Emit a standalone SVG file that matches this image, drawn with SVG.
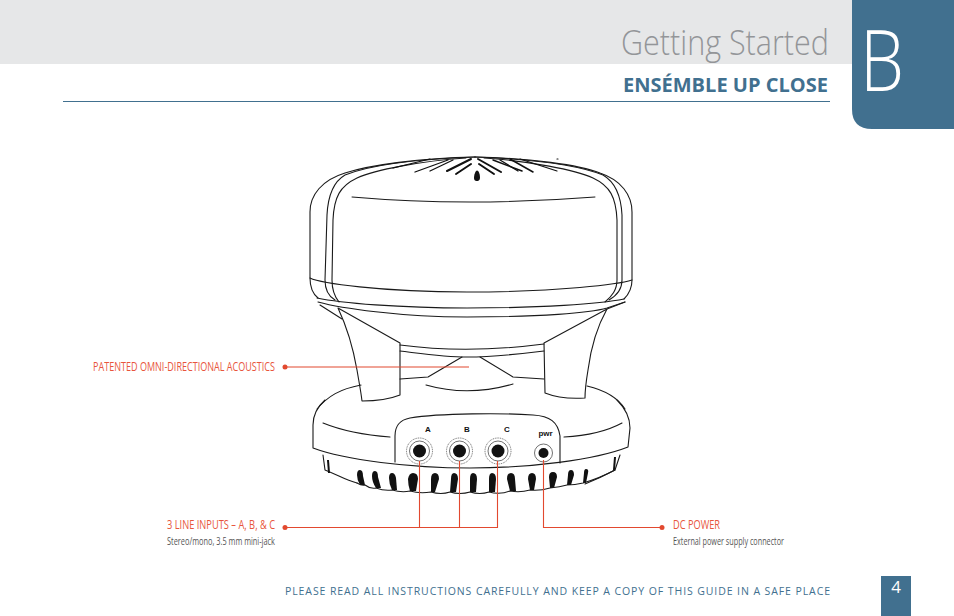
<svg xmlns="http://www.w3.org/2000/svg" width="954" height="616" viewBox="0 0 954 616">
<style>
.o{fill:none;stroke:#1a1a1a;stroke-width:1.1;stroke-linejoin:round;stroke-linecap:round}
.k{fill:#111}
.v{fill:none;stroke:#111;stroke-linecap:round}
.r{fill:none;stroke:#e2492f;stroke-width:1.1}
.d{fill:#e2492f}
.lab{font-family:"Open Sans","Noto Sans",sans-serif;fill:#e8553c;font-size:12px}
.sub{font-family:"Open Sans","Noto Sans",sans-serif;fill:#555;font-size:10px}
.j{font-family:"Liberation Sans",Arial,sans-serif;font-weight:bold;font-size:8px;fill:#111;text-anchor:middle}
.ring{fill:none;stroke:#333;stroke-width:.7}
.dot{fill:none;stroke:#333;stroke-width:.7;stroke-dasharray:1 .8}
</style>
<rect width="954" height="616" fill="#fff"/>
<g id="header">
<rect x="0" y="0" width="852" height="64" fill="#e6e7e8"/>
<path d="M852 0H954V129H872Q852 129 852 109Z" fill="#41708f"/>
<text x="860" y="91" font-family="Open Sans,Noto Sans,sans-serif" font-weight="300" font-size="84" fill="#fff" textLength="44" lengthAdjust="spacingAndGlyphs">B</text>
<text x="621" y="55" font-family="Open Sans,Noto Sans,sans-serif" font-weight="300" font-size="34" fill="#939598" textLength="208" lengthAdjust="spacingAndGlyphs">Getting Started</text>
<text x="623" y="92" font-family="Open Sans,Noto Sans,sans-serif" font-weight="700" font-size="20" fill="#41708f" textLength="205" lengthAdjust="spacing">ENSÉMBLE UP CLOSE</text>
<line x1="63" y1="101.500" x2="830" y2="101.500" stroke="#41708f" stroke-width="1"/>
</g>
<g id="device">
<g id="dome">
<path class="o" d="M475 157C420 158 370 165 345 173C322 180 310 195 310 212V278C310 288 313 294 318 298"/>
<path class="o" d="M475 157C530 158 580 165 600 173C621 180 632 195 632 212V280C632 288 629 294 624 299"/>
<path class="o" d="M335 300C328 296 325 290 325 280L327 215C328 195 333 182 345 175C370 165 420 159 475 157"/>
<path class="o" d="M609 300C616 296 622 290 622 280L622 215C621 195 615 182 603 175C578 165 530 159 475 157"/>
<path class="o" d="M339 302C334 296 332 290 332 280L333 220C334 197 340 186 357 178C375 170 420 161 466 158"/>
<path class="o" d="M605 302C612 296 617 290 617 280L617 220C616 197 610 186 593 178C575 170 530 161 484 158"/>
<path class="o" d="M352 197Q467 207 595 197"/>
<path class="o" d="M310 278C320 283 380 292 467 292C560 292 620 284 632 280"/>
<path class="o" d="M317 298C340 303 400 308 467 308C540 308 600 304 624 299"/>
<path class="o" d="M318 302C340 308 400 317 467 317C540 317 590 313 607 308L625 302"/>
<g id="vents">
<path class="v" stroke-width="1.200" d="M393 168L430 159M558 159L557 159M520 159L557 171"/>
<path class="v" stroke-width="1.300" d="M415 172L448 160M430 171L453 160M500 160L518 171"/>
<path class="v" stroke-width="2" d="M447 171L471 159M456 174L471 164M478 159L501 172M479 164L494 174"/>
<path class="v" stroke-width="1.500" d="M493 160L522 171M510 159L533 172"/>
<path class="k" d="M477 170.500C479 170.500 480 175 480 178C480 180.500 478 181 476.500 181C475 181 474 180 474 178C474 175 475.500 170.500 477 170.500Z"/>
</g>
</g>
<g id="neck">
<path class="o" d="M320 305L342 319"/>
<path class="o" d="M607 309L625 302"/>
<path class="o" d="M338 308C346 325 353 347 357 370C359 382 361 392 362 401C375 401 390 399 400 395V343Z"/>
<path class="o" d="M607 309C598 325 591 347 588 370C586 382 585 390 585 398C570 399 555 397 545 393L544 343Z"/>
<path class="o" d="M400 345Q467 354 544 344"/>
<path class="o" d="M400 351C425 354 445 357 467 357C495 357 520 354 544 351"/>
<path class="o" d="M400 379L428 377L462 357"/>
<path class="o" d="M480 357L513 377L544 379"/>
<path class="o" d="M426 385Q468 397 513 384"/>
</g>
<g id="base">
<path class="o" d="M361 385C340 389 328 396 317 409"/>
<path class="o" d="M587 386C604 390 618 398 625 409"/>
<path class="o" d="M325 400C316 408 313 416 313 425V448C345 460 410 468 470 468C530 468 595 460 628 447L630 428C630 416 625 408 617 400"/>
<path class="o" d="M395 462V436C395 425 400 420 410 418C440 413 505 413 533 415C550 416 558 422 560 436L560 463"/>
<path class="o" d="M323 423Q350 434 390 437"/>
<path class="o" d="M564 437Q600 435 622 423"/>
<path class="o" d="M323 455L325 470C340 476 345 480 357 483"/>
<path class="o" d="M620 455L615 470C600 478 590 482 585 484"/>
<path class="k" d="M327 460h2l1 13h-2Z"/>
<path class="k" d="M614 457h2l-1 13h-2Z"/>
<g id="slots">
<path class="k" d="M357 475Q357 470 360 470Q363 470 363 476L365 485H360Q357 480 357 475Z"/>
<path class="k" d="M372 476Q372 471 375 471Q378 471 378 477L381 488H376Q372 482 372 476Z"/>
<path class="k" d="M389 478Q389 473 392 473Q395 473 396 478L397 490H392Q389 484 389 478Z"/>
<path class="k" d="M408 479Q409 473 413 473Q418 473 418 479L416 491H410Q408 485 408 479Z"/>
<path class="k" d="M431 479Q431 473 435 473Q439 473 439 479L435 492H431Z"/>
<path class="k" d="M451 479Q451 473 454 473Q458 473 458 479L456 492H450Z"/>
<path class="k" d="M470 479Q470 473 473 473Q477 473 477 479L476 492H470Z"/>
<path class="k" d="M489 479Q489 473 492 473Q496 473 496 479L495 492H489Z"/>
<path class="k" d="M507 479Q507 473 511 473Q515 473 515 479L516 491H510Z"/>
<path class="k" d="M528 479Q528 473 532 473Q536 473 536 479L534 490H530Z"/>
<path class="k" d="M549 477Q549 472 553 472Q557 472 557 477L554 488H550Z"/>
<path class="k" d="M568 475Q568 470 571 470Q574 470 574 475L571 485H567Z"/>
<path class="k" d="M584 473Q584 469 586 469Q589 469 588 473L586 483H583Z"/>
<path class="o" d="M357 483Q362 486 365 485Q370 489 376 488Q384 491 392 490Q402 493 410 491Q420 494 431 492Q441 495 450 492Q460 495 470 492Q480 495 489 492Q500 495 510 491Q520 493 530 490Q540 491 550 488Q560 487 567 485Q575 485 583 483Q600 478 615 470"/>
</g>
<g id="jacks">
<circle class="dot" cx="419.500" cy="451" r="13"/><circle class="ring" cx="419.500" cy="451" r="10"/><circle class="k" cx="419.500" cy="451" r="6.500"/>
<circle class="dot" cx="459.500" cy="451" r="13"/><circle class="ring" cx="459.500" cy="451" r="10"/><circle class="k" cx="459.500" cy="451" r="6.500"/>
<circle class="dot" cx="498" cy="451" r="13"/><circle class="ring" cx="498" cy="451" r="10"/><circle class="k" cx="498" cy="451" r="6.500"/>
<circle class="ring" cx="543.500" cy="453" r="9"/><circle class="k" cx="543.500" cy="453" r="5"/>
<text class="j" x="428" y="432">A</text>
<text class="j" x="467" y="432">B</text>
<text class="j" x="507" y="432">C</text>
<text class="j" x="545.500" y="436" font-weight="normal">pwr</text>
</g>
</g>
</g>
<g id="connectors">
<path class="r" d="M285 367H469"/>
<path class="r" d="M285 527.500H497.500V461M419.500 527.500V461M459.500 527.500V461"/>
<path class="r" d="M662 527.500H543.500V460"/>
<circle class="d" cx="285" cy="367" r="2.500"/>
<circle class="d" cx="285" cy="527.500" r="2.500"/>
<circle class="d" cx="662" cy="527.500" r="2.500"/>
</g>
<g id="label-acoustics"><text class="lab" x="93" y="371" textLength="182" lengthAdjust="spacingAndGlyphs">PATENTED OMNI-DIRECTIONAL ACOUSTICS</text></g>
<g id="label-inputs"><text class="lab" x="167" y="529" textLength="108" lengthAdjust="spacingAndGlyphs">3 LINE INPUTS – A, B, &amp; C</text>
<text class="sub" x="167" y="545" textLength="108" lengthAdjust="spacingAndGlyphs">Stereo/mono, 3.5 mm mini-jack</text></g>
<g id="label-power"><text class="lab" x="673" y="529" textLength="47" lengthAdjust="spacingAndGlyphs">DC POWER</text>
<text class="sub" x="673" y="545" textLength="111" lengthAdjust="spacingAndGlyphs">External power supply connector</text></g>
<g id="footer">
<text x="285" y="595" font-family="Open Sans,Noto Sans,sans-serif" font-size="10.500" fill="#41708f" textLength="545" lengthAdjust="spacing">PLEASE READ ALL INSTRUCTIONS CAREFULLY AND KEEP A COPY OF THIS GUIDE IN A SAFE PLACE</text>
<rect x="881" y="576" width="30" height="40" fill="#41708f"/>
<text x="896" y="593" font-family="Open Sans,Noto Sans,sans-serif" font-size="17" fill="#fff" text-anchor="middle">4</text>
</g>
</svg>
